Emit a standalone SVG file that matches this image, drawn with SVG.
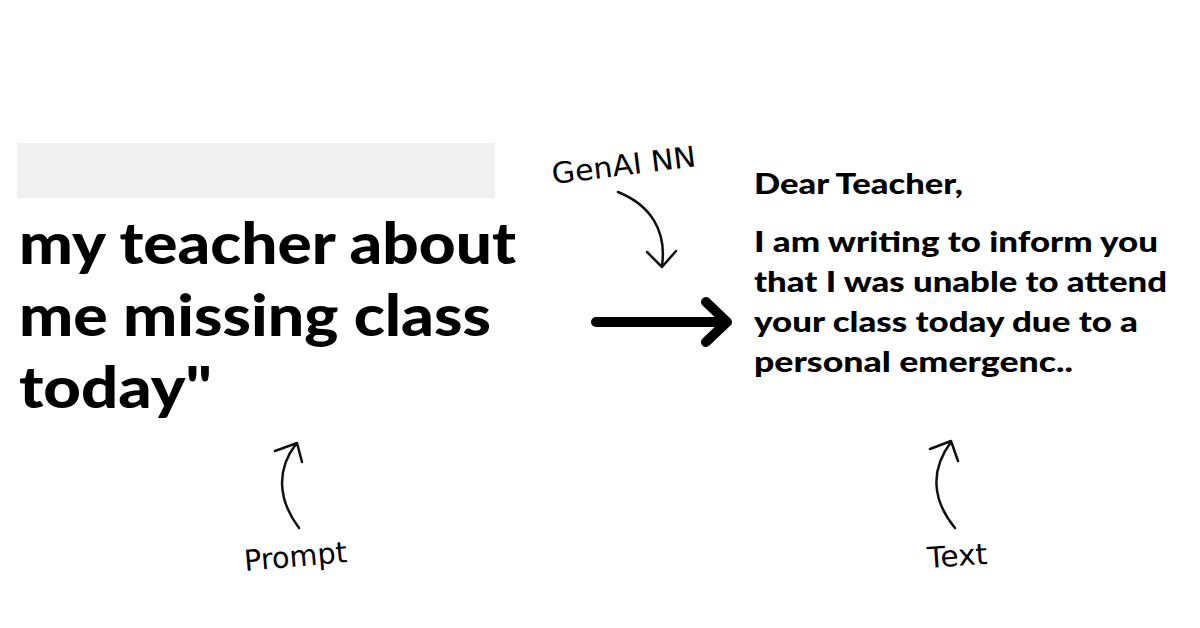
<svg xmlns="http://www.w3.org/2000/svg" width="1200" height="628" viewBox="0 0 1200 628">
<style>
.big{font-family:Lato,"Open Sans",sans-serif;font-weight:900;font-size:57px;fill:#000}
.mid{font-family:Lato,"Open Sans",sans-serif;font-weight:900;font-size:29px;fill:#000}
.hand{font-family:"DejaVu Sans",sans-serif;font-size:29px;fill:#000}
.thin{fill:none;stroke:#111;stroke-width:2.5;stroke-linecap:round;stroke-linejoin:round}
.thick{fill:none;stroke:#000;stroke-width:10;stroke-linecap:round;stroke-linejoin:round}
</style>
<rect width="1200" height="628" fill="#fff"/>
<g id="prompt">
<rect x="17" y="143" width="478" height="55" fill="#f0f0f0"/>
<text class="big" x="19" y="264" textLength="497" lengthAdjust="spacingAndGlyphs">my teacher about</text>
<text class="big" x="19" y="336" textLength="472" lengthAdjust="spacingAndGlyphs">me missing class</text>
<text class="big" x="19" y="408" textLength="193" lengthAdjust="spacingAndGlyphs">today"</text>
</g>
<g id="output">
<text class="mid" x="754" y="194" textLength="209" lengthAdjust="spacingAndGlyphs">Dear Teacher,</text>
<text class="mid" x="754" y="252" textLength="404" lengthAdjust="spacingAndGlyphs">I am writing to inform you</text>
<text class="mid" x="754" y="292" textLength="413" lengthAdjust="spacingAndGlyphs">that I was unable to attend</text>
<text class="mid" x="754" y="332" textLength="384" lengthAdjust="spacingAndGlyphs">your class today due to a</text>
<text class="mid" x="754" y="372" textLength="319" lengthAdjust="spacingAndGlyphs">personal emergenc..</text>
</g>
<g id="label-genai"><text class="hand" x="553" y="184" transform="rotate(-7 553 184)" textLength="145" lengthAdjust="spacingAndGlyphs">GenAI NN</text></g>
<g id="label-prompt"><text class="hand" x="245" y="571" transform="rotate(-5 245 571)" textLength="103" lengthAdjust="spacingAndGlyphs">Prompt</text></g>
<g id="label-text"><text class="hand" x="928" y="568" transform="rotate(-4 928 568)" textLength="60" lengthAdjust="spacingAndGlyphs">Text</text></g>
<g id="connectors">
<path class="thick" d="M596 322 H724 M706 302 L727 322 L706 342"/>
<path class="thin" d="M618 192 C650 205 667 230 662 266 M647 252 L662 267 L676 251"/>
<path class="thin" d="M299 528 C278 500 276 470 296 444 M275 451 L297 443 L302 462"/>
<path class="thin" d="M955 528 C932 500 930 470 951 442 M930 449 L951 441 L958 461"/>
</g>
</svg>
